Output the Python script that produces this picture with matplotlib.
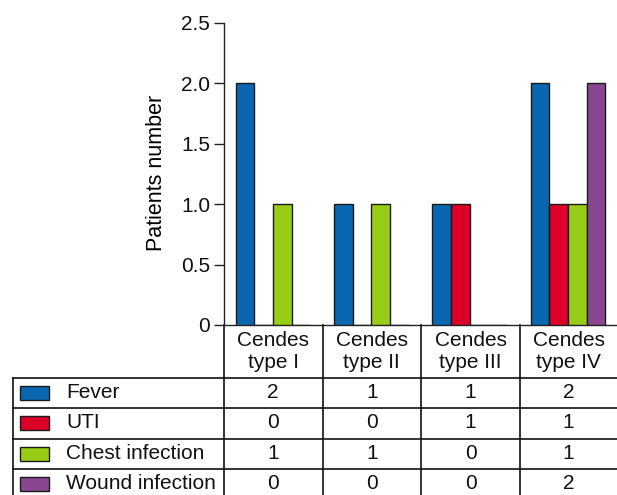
import matplotlib
matplotlib.use("Agg")
import matplotlib.pyplot as plt
from matplotlib.patches import Rectangle
from matplotlib.lines import Line2D
import numpy as np

plt.rcParams['font.family'] = ['Liberation Sans', 'DejaVu Sans']

categories = ["Cendes\ntype I", "Cendes\ntype II", "Cendes\ntype III", "Cendes\ntype IV"]
series_names = ["Fever", "UTI", "Chest infection", "Wound infection"]
fever = [2, 1, 1, 2]
uti = [0, 0, 1, 1]
chest = [1, 1, 0, 1]
wound = [0, 0, 0, 2]
series_values = [fever, uti, chest, wound]
colors = ["#0b66b0", "#dc0028", "#99cc16", "#8a4791"]
yticks = [0, 0.5, 1.0, 1.5, 2.0, 2.5]
ytick_labels = ["0", "0.5", "1.0", "1.5", "2.0", "2.5"]

W, H = 617, 495
fig = plt.figure(figsize=(W / 100, H / 100), dpi=100)

def fx(px):
    return px / W

def fy(py):
    return 1 - py / H

ax_left, ax_right, ax_top, ax_bottom = 224, 617, 23, 325
ax = fig.add_axes([fx(ax_left), fy(ax_bottom), fx(ax_right - ax_left), (ax_bottom - ax_top) / H])

n = len(series_names)
bw = 0.19
x = np.arange(len(categories))
for i, (vals, c) in enumerate(zip(series_values, colors)):
    offs = (i - (n - 1) / 2) * bw
    ax.bar(x + offs, vals, width=bw, color=c, edgecolor="#1a1a1a", linewidth=1.0, zorder=3)

FS = 15
ax.set_xlim(-0.5, len(categories) - 0.5)
ax.set_ylim(0, 2.5)
ax.set_yticks(yticks)
ax.set_yticklabels(ytick_labels, fontsize=FS)
ax.set_xticks([])
for s in ["top", "right"]:
    ax.spines[s].set_visible(False)
ax.spines["left"].set_linewidth(1.0)
ax.spines["bottom"].set_linewidth(1.0)
ax.spines["left"].set_color("#222222")
ax.spines["bottom"].set_color("#222222")
ax.tick_params(axis="y", direction="out", length=7, width=1.0, pad=3, colors="#222222", labelcolor="#111111")
ax.set_ylabel("Patients number", fontsize=15.5, va="center")
ax.yaxis.set_label_coords((157 - ax_left) / (ax_right - ax_left), (ax_bottom - 173) / (ax_bottom - ax_top))

# ---- table below ----
lc = "#111111"
lw = 1.2
col_px = [224, 322.5, 421, 520, 617]
header_bottom = 378
row_lines = [378, 408, 438.5, 468.5, 499]
table_left = 12.5

def hline(y, x0, x1):
    fig.add_artist(Line2D([fx(x0), fx(x1)], [fy(y), fy(y)], color=lc, lw=lw))

def vline(xp, y0, y1):
    fig.add_artist(Line2D([fx(xp), fx(xp)], [fy(y0), fy(y1)], color=lc, lw=lw))

for xp in col_px[:-1]:
    vline(xp, ax_bottom, H + 5)
vline(table_left, header_bottom, H + 5)
for yp in row_lines[:-1]:
    hline(yp, table_left, W)

for j, cat in enumerate(categories):
    cx = (col_px[j] + col_px[j + 1]) / 2
    fig.text(fx(cx), fy(351), cat, ha="center", va="center",
             fontsize=FS, linespacing=1.2, color="#111111")

for i, (name, vals, c) in enumerate(zip(series_names, series_values, colors)):
    y0 = row_lines[i]
    yc = y0 + 15
    fig.add_artist(Rectangle((fx(20), fy(yc + 7)), fx(29), 14 / H, facecolor=c,
                             edgecolor="#1a1a1a", lw=1.0, transform=fig.transFigure))
    fig.text(fx(66), fy(yc), name, ha="left", va="center", fontsize=FS, color="#111111")
    for j, v in enumerate(vals):
        cx = (col_px[j] + col_px[j + 1]) / 2
        fig.text(fx(cx), fy(yc), str(v), ha="center", va="center", fontsize=FS, color="#111111")

fig.savefig("out.png", dpi=100)
